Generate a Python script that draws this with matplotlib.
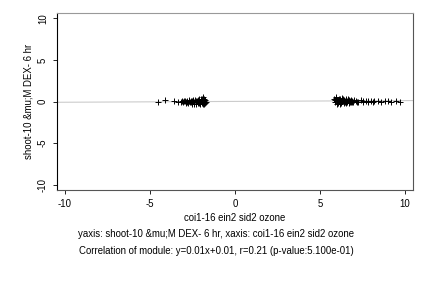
import numpy as np
import matplotlib
matplotlib.use("Agg")
import matplotlib.pyplot as plt

plt.rcParams["font.family"] = ["Liberation Sans", "DejaVu Sans"]
plt.rcParams["axes.unicode_minus"] = False

# left cluster (coi1-16 ein2 sid2 ozone vs shoot-10 uM DEX- 6 hr)
x_left = [-4.5, -4.1, -3.6, -3.35, -3.2, -3.1, -3.05, -2.95, -2.9, -2.85, -2.8,
          -2.75, -2.7, -2.65, -2.6, -2.55, -2.5, -2.45, -2.4, -2.35, -2.3, -2.25,
          -2.2, -2.15, -2.1, -2.05, -2.0, -1.95, -1.9, -1.85, -1.8, -1.75, -1.7,
          -2.6, -2.4, -2.2, -2.0, -1.9, -1.8, -2.3, -2.1, -1.95, -1.75, -2.5,
          -2.7, -2.9, -3.0, -2.45, -2.05, -1.85]
y_left = [-0.05, 0.2, 0.05, -0.05, 0.0, 0.1, -0.1, 0.05, -0.15, 0.1, 0.0,
          -0.2, 0.15, -0.05, 0.1, -0.25, 0.05, 0.2, -0.1, 0.15, -0.3, 0.1,
          0.2, -0.15, 0.25, 0.0, 0.3, -0.2, 0.55, 0.1, -0.1, 0.2, 0.0,
          0.0, -0.25, -0.05, 0.15, -0.3, 0.25, 0.05, -0.2, 0.3, -0.15, -0.1,
          0.05, -0.05, 0.1, 0.1, -0.3, -0.25]

# right cluster
x_right = [5.85, 5.9, 5.95, 6.0, 6.05, 6.1, 6.15, 6.2, 6.25, 6.3, 6.35, 6.4,
           6.45, 6.5, 6.55, 6.6, 6.65, 6.7, 6.75, 6.8, 6.85, 6.9, 6.95, 7.0,
           5.9, 6.0, 6.1, 6.2, 6.3, 6.4, 6.5, 6.6, 6.7, 6.8, 6.9, 5.95, 6.15,
           6.35, 6.55, 6.75, 7.1, 7.25, 7.4, 7.55, 7.7, 7.85, 8.0, 8.2, 8.4,
           8.6, 8.8, 9.0, 9.2, 9.45, 9.7, 7.2, 7.5, 7.8, 8.1]
y_right = [0.3, -0.1, 0.45, 0.1, -0.2, 0.35, 0.0, 0.25, -0.15, 0.4, 0.05, 0.2,
           -0.1, 0.3, 0.1, -0.05, 0.25, 0.15, -0.1, 0.2, 0.0, 0.1, -0.05, 0.15,
           0.15, -0.3, 0.2, -0.25, 0.1, -0.2, 0.0, 0.05, -0.15, 0.1, -0.1, 0.5,
           -0.1, 0.3, -0.2, 0.05, 0.1, 0.0, 0.15, 0.05, 0.1, 0.0, 0.1, 0.05, 0.1,
           0.0, 0.05, 0.1, 0.0, 0.05, -0.05, -0.05, 0.0, 0.05, -0.05]

slope, intercept = 0.01, 0.01
xticks = [-10, -5, 0, 5, 10]
yticks = [-10, -5, 0, 5, 10]

fig = plt.figure(figsize=(4.32, 2.88), dpi=100)
ax = fig.add_axes([57 / 432, 1 - 190 / 288, (413 - 57) / 432, (190 - 13) / 288])

ax.set_xlim(-10.47, 10.47)
ax.set_ylim(-10.65, 10.65)

xs = np.array([-10.47, 10.47])
ax.plot(xs, slope * xs + intercept, color="#cccccc", lw=0.8, zorder=1)

ax.plot(x_left + x_right, y_left + y_right, "+", color="black",
        ms=4, mew=0.7, zorder=2)

ax.set_xticks(xticks)
ax.set_yticks(yticks)
ax.tick_params(labelsize=6.9, length=3, width=0.6, colors="black")
for lab in ax.get_yticklabels():
    lab.set_rotation(90)
    lab.set_va("center")
ax.spines["left"].set_color("black")
ax.spines["bottom"].set_color("#555555")
ax.spines["top"].set_color("#999999")
ax.spines["right"].set_color("#555555")
for s in ax.spines.values():
    s.set_linewidth(0.8)

ax.set_xlabel("coi1-16 ein2 sid2 ozone", fontsize=6.9, labelpad=3)
ax.set_ylabel("shoot-10 &mu;M DEX- 6 hr", fontsize=6.9, labelpad=3)

fig.text(0.5, 1 - 234 / 288, "yaxis: shoot-10 &mu;M DEX- 6 hr, xaxis: coi1-16 ein2 sid2 ozone",
         ha="center", va="center", fontsize=6.9)
fig.text(0.5, 1 - 251 / 288, "Correlation of module: y=0.01x+0.01, r=0.21 (p-value:5.100e-01)",
         ha="center", va="center", fontsize=6.9)

fig.savefig("out.png", dpi=100)
